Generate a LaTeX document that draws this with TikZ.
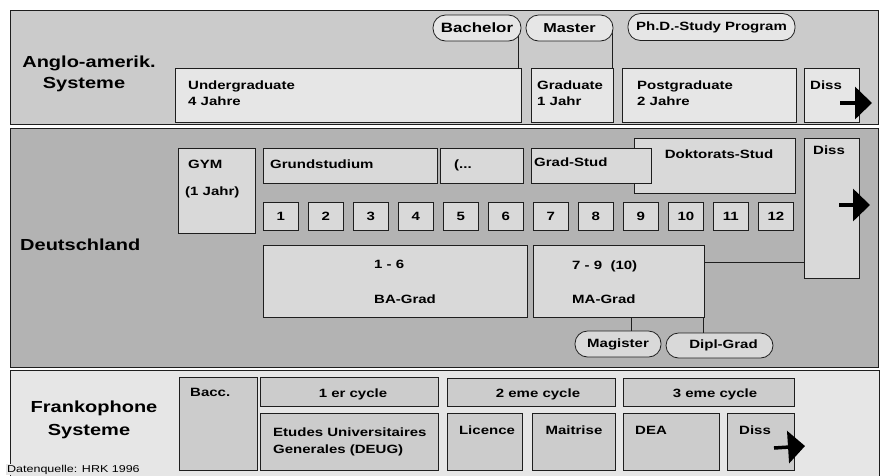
\documentclass[tikz,border=0pt]{standalone}
\usepackage{fontspec}
\setmainfont{Liberation Sans}[FakeStretch=1.25]
\usetikzlibrary{arrows.meta}

\pgfdeclarelayer{panels}
\pgfdeclarelayer{links}
\pgfsetlayers{panels,links,main}

\definecolor{frameline}{HTML}{1E1E1E}
\definecolor{panelA}{HTML}{CBCBCB}
\definecolor{boxA}{HTML}{E6E6E6}
\definecolor{panelB}{HTML}{B3B3B3}
\definecolor{boxB}{HTML}{D9D9D9}
\definecolor{panelC}{HTML}{E6E6E6}
\definecolor{boxC}{HTML}{CCCCCC}

\tikzset{
  panel/.style={draw=frameline, line width=1.2pt, anchor=north west, inner sep=0pt},
  box/.style={draw=frameline, line width=0.8pt, anchor=north west, inner sep=0pt,
              font=\bfseries\fontsize{12}{14}\selectfont},
  pill/.style={draw=frameline, line width=0.8pt, rounded corners=12.5pt, inner sep=0pt,
               font=\bfseries\fontsize{12}{14}\selectfont},
  txt/.style={inner sep=0pt, anchor=base west, font=\bfseries\fontsize{12}{14}\selectfont},
  ctxt/.style={inner sep=0pt, anchor=base, font=\bfseries\fontsize{12}{14}\selectfont},
  title/.style={inner sep=0pt, anchor=base, font=\bfseries\fontsize{16}{19}\selectfont},
  link/.style={draw=frameline, line width=0.8pt},
  fwd/.style={draw=black, line width=3.5pt, -{Triangle[length=17pt 0,width=32pt 0]}},
}

\begin{document}
\begin{tikzpicture}[x=1pt, y=-1pt]
\useasboundingbox (0,0) rectangle (883,475);

% ---------- the three system panels ----------
\begin{pgfonlayer}{panels}
  \node[panel, fill=panelA, minimum width=868pt, minimum height=114pt] (angloPanel) at (10,10) {};
  \node[panel, fill=panelB, minimum width=868pt, minimum height=239pt] (dePanel) at (10,128) {};
  \node[panel, fill=panelC, minimum width=869pt, minimum height=115pt] (frPanel) at (10,370) {};
\end{pgfonlayer}

% ---------- Anglo-American system ----------
\node[title] (angloT1) at (89,67) {Anglo-amerik.};
\node[title] (angloT2) at (84,88) {Systeme};

\node[box, fill=boxA, minimum width=346pt, minimum height=54pt] (ug) at (175,68) {};
\node[box, fill=boxA, minimum width=82pt, minimum height=54pt] (grad) at (531,68) {};
\node[box, fill=boxA, minimum width=174pt, minimum height=54pt] (post) at (622,68) {};
\node[box, fill=boxA, minimum width=55pt, minimum height=54pt] (dissA) at (804,68) {};

\node[txt] (ugT1) at (188,89) {Undergraduate};
\node[txt] (ugT2) at (188,105) {4 Jahre};
\node[txt] (gradT1) at (537,89) {Graduate};
\node[txt] (gradT2) at (537,105) {1 Jahr};
\node[txt] (postT1) at (637,89) {Postgraduate};
\node[txt] (postT2) at (637,105) {2 Jahre};
\node[txt] (dissAT) at (810,89) {Diss};

\node[pill, fill=boxA, minimum width=88pt, minimum height=26pt,
      font=\bfseries\fontsize{13.5}{15}\selectfont] (bachelor) at (477,28) {Bachelor};
\node[pill, fill=boxA, minimum width=87pt, minimum height=26pt,
      font=\bfseries\fontsize{13}{15}\selectfont] (master) at (569.5,28) {Master};
\node[pill, fill=boxA, minimum width=167pt, minimum height=27pt] (phd) at (711.5,27) {Ph.D.-Study Program};

\begin{pgfonlayer}{links}
  \draw[link] ([xshift=-3pt]ug.north east) -- ([xshift=-3pt]ug.north east |- bachelor.center);
  \draw[link] ([xshift=-1pt]grad.north east) -- ([xshift=-1pt]grad.north east |- master.center);
\end{pgfonlayer}

\coordinate (arrA0) at (840,103);
\coordinate (arrA1) at (872,103);
\draw[fwd] (arrA0) -- (arrA1);

% ---------- German system ----------
\node[title, anchor=base west] (deT) at (20,250) {Deutschland};

\node[box, fill=boxB, minimum width=77pt, minimum height=85pt] (gym) at (178,148) {};
\node[txt] (gymT1) at (188,168) {GYM};
\node[txt] (gymT2) at (185,195) {(1 Jahr)};

\node[box, fill=boxB, minimum width=174pt, minimum height=35pt] (grund) at (263,148) {};
\node[txt] (grundT) at (270,168) {Grundstudium};
\node[box, fill=boxB, minimum width=83pt, minimum height=35pt] (etc) at (440,148) {};
\node[txt] (etcT) at (454,168) {(...};
\node[box, fill=boxB, minimum width=161pt, minimum height=55pt] (dok) at (634,138) {};
\node[ctxt] (dokT) at (719,158) {Doktorats-Stud};
\node[box, fill=boxB, minimum width=120pt, minimum height=35pt] (gradstud) at (531,148) {};
\node[txt] (gradstudT) at (534,166) {Grad-Stud};

\node[box, fill=boxB, minimum width=55pt, minimum height=140pt] (dissB) at (804,138) {};
\node[txt] (dissBT) at (813,154) {Diss};

\foreach \i in {1,...,12}
  \node[box, fill=boxB, minimum width=35pt, minimum height=28pt] (sem\i) at ({263+45*(\i-1)},202) {\i};

\node[box, fill=boxB, minimum width=264pt, minimum height=72pt] (ba) at (263,245) {};
\node[txt] (baT1) at (374,268) {1 - 6};
\node[txt] (baT2) at (374,303) {BA-Grad};
\node[box, fill=boxB, minimum width=171pt, minimum height=72pt] (ma) at (533,245) {};
\node[txt] (maT1) at (572,269) {7 - 9\ \ (10)};
\node[txt] (maT2) at (572,303) {MA-Grad};

\node[pill, fill=boxB, minimum width=86pt, minimum height=26pt] (magister) at (618,344) {Magister};
\node[pill, fill=boxB, minimum width=107pt, minimum height=25pt] (dipl) at (719.5,345.5) {\hspace*{8pt}Dipl-Grad};

\begin{pgfonlayer}{links}
  \draw[link] ([yshift=-17pt]ma.north east) -- ([yshift=-17pt]ma.north east -| dissB.west);
  \draw[link] ([xshift=12pt]ma.south) -- ([xshift=12pt]ma.south |- magister.center);
  \draw[link] ([xshift=-1pt]ma.south east) -- ([xshift=-1pt]ma.south east |- dipl.center);
\end{pgfonlayer}

\coordinate (arrB0) at (839,205);
\coordinate (arrB1) at (870,205);
\draw[fwd] (arrB0) -- (arrB1);

% ---------- French system ----------
\node[title] (frT1) at (94,412) {Frankophone};
\node[title] (frT2) at (89,435) {Systeme};
\node[inner sep=1pt, anchor=base west, fill=panelC, font=\fontsize{10}{12}\selectfont] (source) at (6,472) {Datenquelle: HRK 1996};

\node[box, fill=boxC, minimum width=78pt, minimum height=93pt] (bacc) at (179,377) {};
\node[txt] (baccT) at (190,396) {Bacc.};

\node[box, fill=boxC, minimum width=178pt, minimum height=29pt] (cyc1) at (260,377) {};
\node[ctxt] (cyc1T) at (353,397) {1 er cycle};
\node[box, fill=boxC, minimum width=178pt, minimum height=57pt] (deug) at (260,413) {};
\node[txt] (deugT1) at (273,436) {Etudes Universitaires};
\node[txt] (deugT2) at (273,453) {Generales (DEUG)};

\node[box, fill=boxC, minimum width=168pt, minimum height=28pt] (cyc2) at (447,378) {};
\node[ctxt] (cyc2T) at (538,397) {2 eme cycle};
\node[box, fill=boxC, minimum width=75pt, minimum height=57pt] (lic) at (447,413) {};
\node[ctxt] (licT) at (487,434) {Licence};
\node[box, fill=boxC, minimum width=83pt, minimum height=57pt] (mait) at (532,413) {};
\node[ctxt] (maitT) at (574,434) {Maitrise};

\node[box, fill=boxC, minimum width=171pt, minimum height=28pt] (cyc3) at (623,378) {};
\node[ctxt] (cyc3T) at (715,397) {3 eme cycle};
\node[box, fill=boxC, minimum width=96pt, minimum height=57pt] (dea) at (623,413) {};
\node[txt] (deaT) at (635,434) {DEA};
\node[box, fill=boxC, minimum width=67pt, minimum height=57pt] (dissC) at (727,413) {};
\node[txt] (dissCT) at (739,434) {Diss};

\coordinate (arrC0) at (774,448);
\coordinate (arrC1) at (805,446);
\draw[fwd] (arrC0) -- (arrC1);
\end{tikzpicture}
\end{document}
